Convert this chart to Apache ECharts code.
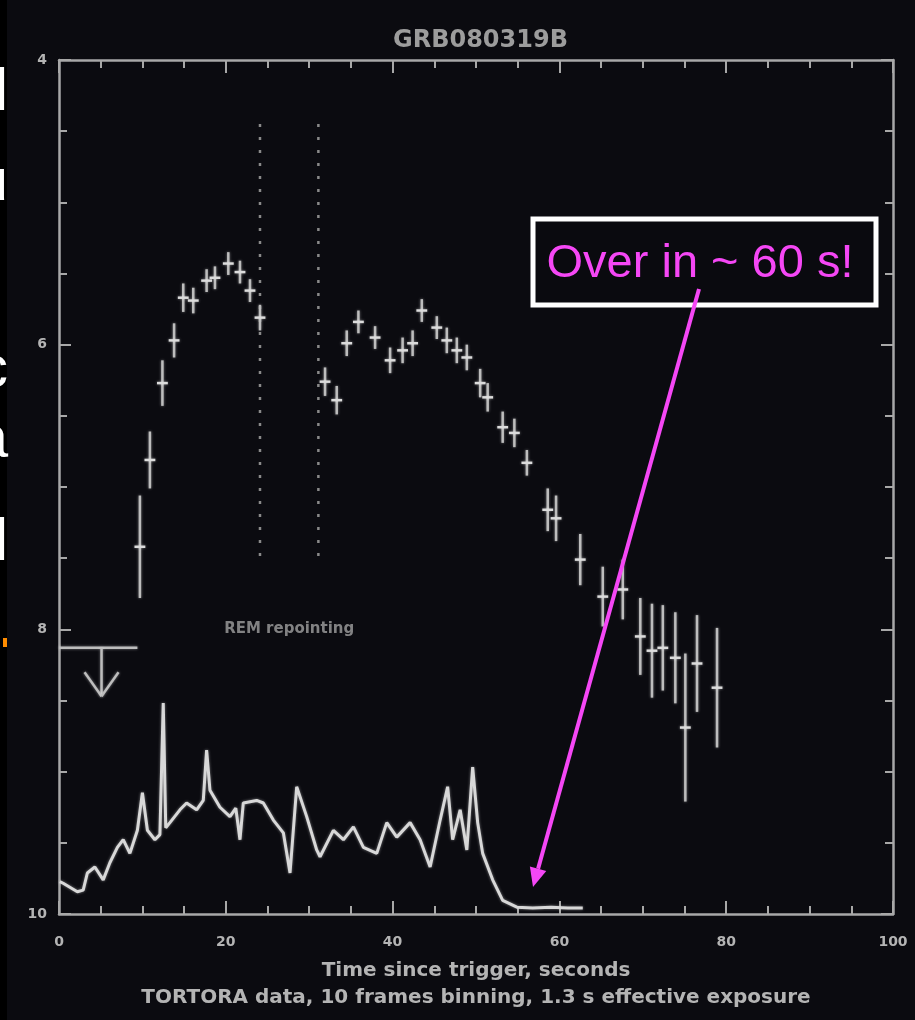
<!DOCTYPE html>
<html>
<head>
<meta charset="utf-8">
<script src="https://cdn.jsdelivr.net/npm/echarts@6/dist/echarts.min.js"></script>
<style>
html,body{margin:0;padding:0;background:#000;}
#chart{width:915px;height:1020px;}
</style>
</head>
<body>
<div id="chart"></div>
<script>
// ---------- data ----------
const chartTitle = 'GRB080319B';
const xAxisTitle = 'Time since trigger, seconds';
const xAxisNote = 'TORTORA data, 10 frames binning, 1.3 s effective exposure';
const xTickLabels = [0, 20, 40, 60, 80, 100];
const yTickLabels = [4, 6, 8, 10];

// optical (TORTORA) points: time [s], magnitude, error [mag]
const optTime = [9.7, 10.9, 12.4, 13.8, 14.9, 16.1, 17.7, 18.7, 20.3, 21.7, 22.9, 24.1,
  31.9, 33.3, 34.5, 35.9, 37.9, 39.7, 41.2, 42.4, 43.5, 45.3, 46.5, 47.7, 48.9, 50.5, 51.4,
  53.2, 54.6, 56.1, 58.6, 59.6, 62.5, 65.2, 67.6, 69.7, 71.1, 72.4, 73.9, 75.1, 76.5, 78.9];
const optMag = [7.42, 6.81, 6.27, 5.97, 5.67, 5.69, 5.55, 5.53, 5.43, 5.49, 5.62, 5.81,
  6.26, 6.39, 5.99, 5.84, 5.95, 6.11, 6.04, 5.99, 5.76, 5.88, 5.97, 6.04, 6.09, 6.27, 6.37,
  6.58, 6.62, 6.83, 7.16, 7.22, 7.51, 7.77, 7.72, 8.05, 8.15, 8.13, 8.20, 8.69, 8.24, 8.41];
const optErr = [0.36, 0.20, 0.16, 0.12, 0.10, 0.09, 0.08, 0.08, 0.08, 0.08, 0.08, 0.09,
  0.10, 0.10, 0.09, 0.08, 0.08, 0.09, 0.09, 0.09, 0.08, 0.08, 0.09, 0.09, 0.09, 0.10, 0.10,
  0.11, 0.10, 0.09, 0.15, 0.16, 0.18, 0.21, 0.21, 0.27, 0.33, 0.30, 0.32, 0.52, 0.34, 0.42];
const optHalfBin = 0.65; // s

// gamma-ray light curve (arbitrary units)
const gamTime = [0.1, 0.5, 2.2, 2.9, 3.4, 4.3, 5.3, 6.1, 7.0, 7.7, 8.5, 9.4, 10.0, 10.6, 11.5,
  12.1, 12.5, 12.8, 13.3, 14.5, 15.3, 16.5, 17.3, 17.7, 18.1, 19.3, 20.5, 21.2, 21.7, 22.1,
  23.7, 24.5, 25.7, 26.9, 27.7, 28.5, 29.7, 30.9, 31.3, 32.9, 34.1, 35.3, 36.5, 38.1, 39.3,
  40.5, 42.1, 43.3, 44.5, 45.7, 46.6, 47.2, 48.1, 48.9, 49.6, 50.2, 50.8, 52.0, 53.2, 54.9,
  56.8, 59.0, 61.0, 62.8];
const gamRate = [3.8, 3.6, 2.6, 2.8, 4.8, 5.5, 4.0, 6.0, 7.8, 8.7, 7.1, 9.8, 14.2, 9.8, 8.7,
  9.3, 24.7, 10.1, 10.7, 12.2, 13.0, 12.2, 13.3, 19.2, 14.5, 12.5, 11.4, 12.4, 8.7, 13.0,
  13.3, 13.0, 11.0, 9.5, 4.8, 14.9, 11.4, 7.5, 6.7, 9.8, 8.7, 10.2, 7.8, 7.1, 10.7,
  9.0, 10.7, 8.7, 5.5, 11.0, 14.9, 8.7, 12.2, 7.5, 17.2, 10.7, 7.1, 4.0, 1.6, 0.8,
  0.7, 0.8, 0.7, 0.7];

// pre-trigger upper limit
const ulStart = 0, ulEnd = 9.4, ulMag = 8.13, ulArrowT = 5.1, ulArrowTo = 8.47;
// REM repointing gap markers
const gapTimes = [24.1, 31.1];
const gapMagTop = 4.45, gapMagBottom = 7.5;
const gapLabel = 'REM repointing';
const gapLabelPos = [27.6, 8.0];

// annotation
const noteText = 'Over in ~ 60 s!';

// ---------- chart ----------
const el = document.getElementById('chart');
const chart = echarts.init(el, null, {renderer: 'canvas'});

const AX = '#a8a8a8';
const TXT = '#b4b4b4';
const FONT = 'DejaVu Sans';
const glow = {shadowBlur: 3, shadowColor: 'rgba(255,255,255,0.45)'};

const optData = optTime.map((t, i) => [t, optMag[i], optErr[i]]);
const gamData = gamTime.map((t, i) => [t, gamRate[i]]);

function xAxisBase(pos, labels) {
  return {
    type: 'value', position: pos, min: 0, max: 100, interval: 20,
    axisLine: {show: true, onZero: false, lineStyle: {color: AX, width: 2.5}},
    axisTick: {show: true, inside: true, length: 13, lineStyle: {color: AX, width: 2}},
    minorTick: {show: true, splitNumber: 4, length: 8, lineStyle: {color: AX, width: 2}},
    splitLine: {show: false}, minorSplitLine: {show: false},
    axisLabel: labels ? {show: true, color: TXT, fontFamily: FONT, fontSize: 14, fontWeight: 'bold', margin: 21,
      formatter: v => xTickLabels.includes(v) ? String(v) : ''} : {show: false}
  };
}
function yAxisBase(pos, labels) {
  return {
    type: 'value', position: pos, min: 4, max: 10, interval: 2, inverse: true,
    axisLine: {show: true, onZero: false, lineStyle: {color: AX, width: 2.5}},
    axisTick: {show: true, inside: true, length: 12, lineStyle: {color: AX, width: 2}},
    minorTick: {show: true, splitNumber: 4, length: 8, lineStyle: {color: AX, width: 2}},
    splitLine: {show: false}, minorSplitLine: {show: false},
    axisLabel: labels ? {show: true, color: TXT, fontFamily: FONT, fontSize: 14, fontWeight: 'bold', margin: 12,
      formatter: v => yTickLabels.includes(v) ? String(v) : ''} : {show: false}
  };
}

const xBottom = xAxisBase('bottom', true);
xBottom.name = xAxisTitle + '\n' + xAxisNote;
xBottom.nameLocation = 'middle';
xBottom.nameGap = 43;
xBottom.nameTextStyle = {color: TXT, fontFamily: FONT, fontSize: 20, fontWeight: 'bold', lineHeight: 27};

const option = {
  backgroundColor: '#0b0b10',
  animation: false,
  title: {
    text: chartTitle, left: 388, top: 24,
    textStyle: {color: '#9c9c9c', fontFamily: FONT, fontSize: 24, fontWeight: 'bold'}
  },
  grid: {left: 59, right: 22, top: 60, bottom: 106, containLabel: false},
  xAxis: [xBottom, xAxisBase('top', false)],
  yAxis: [yAxisBase('left', true), yAxisBase('right', false),
    {type: 'value', min: 0, max: 100, show: false}],
  series: [
    {
      name: 'gamma', type: 'line', xAxisIndex: 0, yAxisIndex: 2,
      data: gamData, showSymbol: false, smooth: false,
      lineStyle: Object.assign({color: '#d8d8d8', width: 3}, glow), z: 3
    },
    {
      name: 'optical', type: 'custom', xAxisIndex: 0, yAxisIndex: 0,
      data: optData,
      renderItem: function (params, api) {
        const t = api.value(0), m = api.value(1), e = api.value(2);
        const c = api.coord([t, m]);
        const top = api.coord([t, m - e]);
        const bot = api.coord([t, m + e]);
        const l = api.coord([t - optHalfBin, m]);
        const r = api.coord([t + optHalfBin, m]);
        return {type: 'group', children: [
          {type: 'line', shape: {x1: c[0], y1: top[1], x2: c[0], y2: bot[1]},
            style: Object.assign({stroke: '#bdbdbd', lineWidth: 2.5}, glow)},
          {type: 'line', shape: {x1: l[0], y1: c[1], x2: r[0], y2: c[1]},
            style: Object.assign({stroke: '#dcdcdc', lineWidth: 2.5}, glow)}
        ]};
      }, z: 4
    },
    {
      name: 'upper limit', type: 'custom', xAxisIndex: 0, yAxisIndex: 0,
      data: [[ulStart, ulEnd, ulMag, ulArrowT, ulArrowTo]],
      renderItem: function (params, api) {
        const a = api.coord([api.value(0), api.value(2)]);
        const b = api.coord([api.value(1), api.value(2)]);
        const s = api.coord([api.value(3), api.value(2)]);
        const tip = api.coord([api.value(3), api.value(4)]);
        const st = () => Object.assign({stroke: '#bdbdbd', lineWidth: 2.5, fill: null}, glow);
        return {type: 'group', children: [
          {type: 'line', shape: {x1: a[0], y1: a[1], x2: b[0], y2: b[1]}, style: st()},
          {type: 'line', shape: {x1: s[0], y1: s[1], x2: tip[0], y2: tip[1]}, style: st()},
          {type: 'line', shape: {x1: tip[0] - 17, y1: tip[1] - 24, x2: tip[0], y2: tip[1]}, style: st()},
          {type: 'line', shape: {x1: tip[0] + 17, y1: tip[1] - 24, x2: tip[0], y2: tip[1]}, style: st()}
        ]};
      }, z: 4
    },
    {
      name: 'gap', type: 'custom', xAxisIndex: 0, yAxisIndex: 0,
      data: gapTimes.map(t => [t, gapMagTop, gapMagBottom]),
      renderItem: function (params, api) {
        const p1 = api.coord([api.value(0), api.value(1)]);
        const p2 = api.coord([api.value(0), api.value(2)]);
        return {type: 'line', shape: {x1: p1[0], y1: p1[1], x2: p2[0], y2: p2[1]},
          style: {stroke: '#8a8a8a', lineWidth: 2.5, lineDash: [3, 10]}};
      }, z: 3
    },
    {
      name: 'gap label', type: 'scatter', xAxisIndex: 0, yAxisIndex: 0,
      data: [gapLabelPos], symbolSize: 0,
      label: {show: true, position: 'inside', formatter: gapLabel, color: '#a0a0a0',
        fontFamily: FONT, fontSize: 15, fontWeight: 'bold'}, z: 3
    }
  ]
};
chart.setOption(option);

// ---------- annotations (slide overlay) ----------
const start = [699, 289], end = [533, 887];
const dx = end[0] - start[0], dy = end[1] - start[1];
const len = Math.hypot(dx, dy);
const ux = dx / len, uy = dy / len, px = -uy, py = ux;
const headL = 19, headW = 8.5;
const base = [end[0] - headL * ux, end[1] - headL * uy];

const slideText = [
  {t: 'l', y: 123}, {t: 'u', y: 213}, {t: 'c', y: 400}, {t: 'a', y: 470}, {t: 'l', y: 573}
];

chart.setOption({
  graphic: [
    {type: 'rect', shape: {x: 0, y: 0, width: 7, height: 1020}, style: {fill: '#000'}, silent: true},
    // slide text fragments cut by the left edge
    ...slideText.map(s => ({
      type: 'text', x: 8, y: s.y, silent: true,
      style: {text: s.t, fill: '#ffffff', font: '60px "Liberation Sans"', textAlign: 'right', textVerticalAlign: 'bottom'}
    })),
    {type: 'rect', shape: {x: 3, y: 638, width: 4, height: 9}, style: {fill: '#ff8c00'}, silent: true},
    // callout box
    {type: 'rect', shape: {x: 533, y: 219, width: 343, height: 86},
      style: {fill: '#0a0a0f', stroke: '#ffffff', lineWidth: 5}, z: 50, silent: true},
    {type: 'text', x: 700, y: 264, z: 51, silent: true,
      style: {text: noteText, fill: '#f547f5', font: '47px "Liberation Sans"', textAlign: 'center', textVerticalAlign: 'middle'}},
    // arrow
    {type: 'line', shape: {x1: start[0], y1: start[1], x2: base[0], y2: base[1]},
      style: {stroke: '#f547f5', lineWidth: 4}, z: 50, silent: true},
    {type: 'polygon', shape: {points: [end, [base[0] + headW * px, base[1] + headW * py], [base[0] - headW * px, base[1] - headW * py]]},
      style: {fill: '#f547f5'}, z: 50, silent: true}
  ]
});
</script>
</body>
</html>
